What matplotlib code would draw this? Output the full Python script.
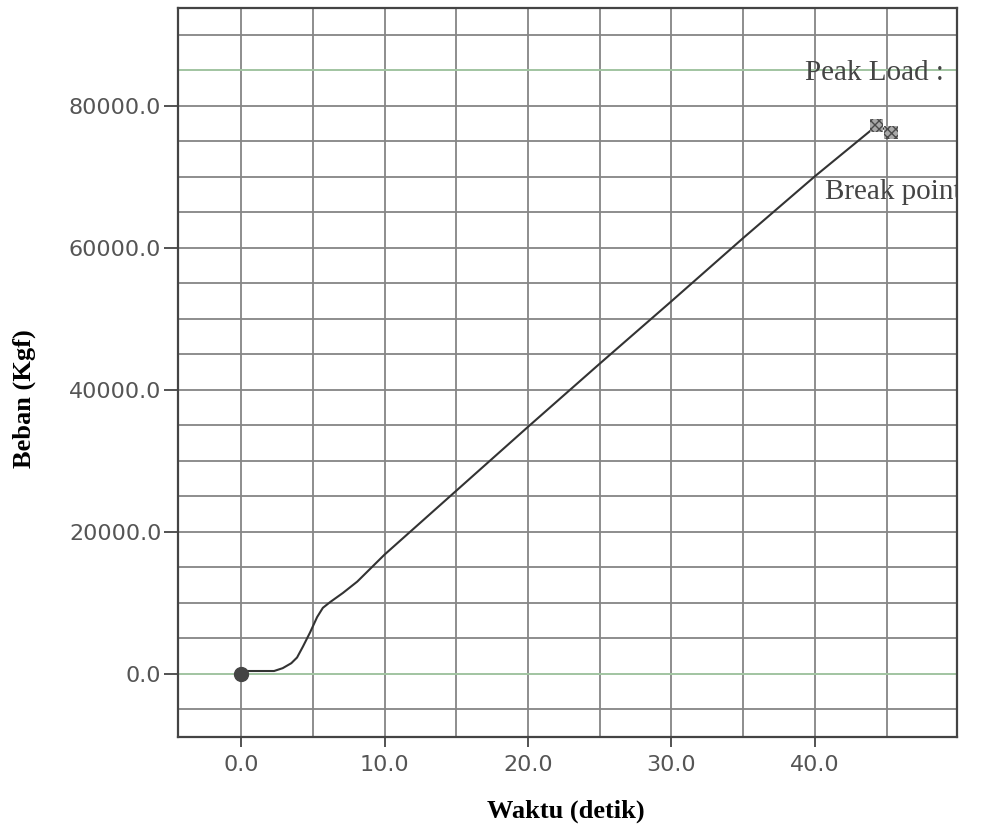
import matplotlib.pyplot as plt
from matplotlib.ticker import MultipleLocator

# load curve (time in s, load in kgf)
waktu = [0, 0.3, 2.3, 2.9, 3.5, 3.9, 4.3, 4.8, 5.3, 5.7, 6.2, 7.1, 8.1,
         10.0, 15.0, 20.0, 25.0, 30.0, 35.0, 40.0, 43.8, 44.3, 44.8, 45.3]
beban = [0, 400, 400, 800, 1500, 2300, 3800, 5800, 8000, 9300, 10100, 11400, 13000,
         16800, 25800, 34800, 43700, 52500, 61400, 70100, 76400, 77200, 76800, 76400]

peak_x, peak_y = 44.3, 77200
break_x, break_y = 45.3, 76300

x_ticks = [0, 10, 20, 30, 40]
y_ticks = [0, 20000, 40000, 60000, 80000]
green_lines = [0, 85000]

fig = plt.figure(figsize=(9.92, 8.36), dpi=100)
ax = fig.add_axes([0.1794, 0.1184, 0.7853, 0.872])
ax.set_xlim(-4.4, 49.9)
ax.set_ylim(-8900, 93800)

ax.set_xticks(x_ticks)
ax.set_xticklabels(['%.1f' % v for v in x_ticks])
ax.set_yticks(y_ticks)
ax.set_yticklabels(['%.1f' % v for v in y_ticks])
ax.xaxis.set_minor_locator(MultipleLocator(5))
ax.yaxis.set_minor_locator(MultipleLocator(5000))
ax.grid(which='both', color='#858585', lw=1.3)
ax.set_axisbelow(True)
for g in green_lines:
    ax.axhline(g, color='#a9d6a9', lw=1.1, zorder=1.5)

for lab in ax.get_xticklabels() + ax.get_yticklabels():
    lab.set_fontfamily('DejaVu Sans')
    lab.set_fontsize(16)
    lab.set_color('#555555')
ax.tick_params(axis='x', which='major', length=7, width=1.3, color='#444444', pad=6)
ax.tick_params(axis='y', which='major', length=10, width=1.3, color='#444444', pad=2)
ax.tick_params(which='minor', length=0)
for sp in ax.spines.values():
    sp.set_color('#444444')
    sp.set_linewidth(1.6)

ax.plot(waktu, beban, color='#333333', lw=1.5, zorder=3)
ax.plot(0, 0, 'o', ms=10, color='#444444', zorder=4)
ax.scatter([peak_x, break_x], [peak_y, break_y], marker='s', s=90,
           facecolor='#a8a8a8', edgecolor='#4a4a4a', hatch='xxxx', lw=0, zorder=4)

serif = ['Liberation Serif', 'DejaVu Serif']
ax.text(39.3, 84600, 'Peak Load :', family=serif, fontsize=21, color='#444444',
        va='center', ha='left', clip_on=True, zorder=5)
ax.text(40.7, 67900, 'Break point', family=serif, fontsize=21, color='#444444',
        va='center', ha='left', clip_on=True, zorder=5)

fig.text(566 / 992, 1 - 811 / 836, 'Waktu (detik)', family=serif, fontsize=19,
         fontweight='bold', ha='center', va='center')
fig.text(24 / 992, 1 - 399 / 836, 'Beban (Kgf)', family=serif, fontsize=19,
         fontweight='bold', ha='center', va='center', rotation=90)

fig.savefig('out.png', dpi=100)
